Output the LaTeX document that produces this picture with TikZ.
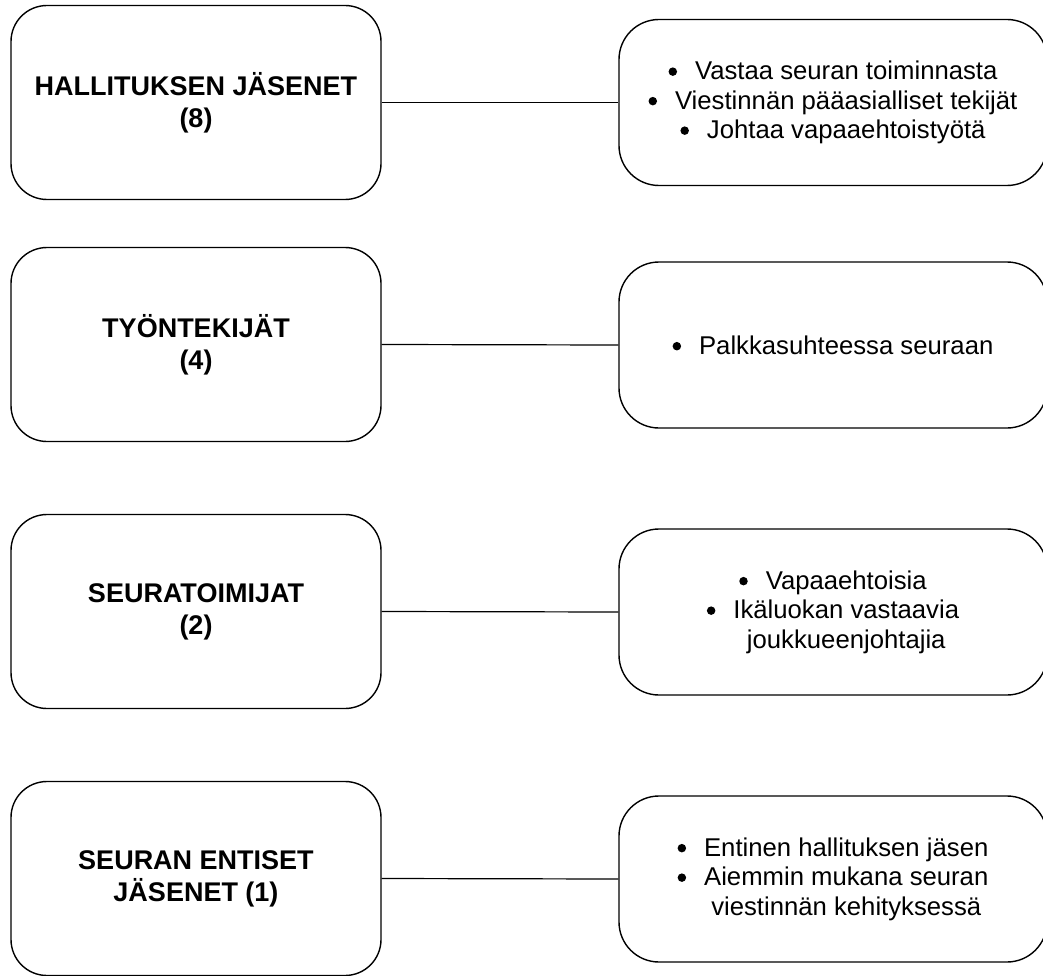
\documentclass[tikz,border=0pt]{standalone}
\usepackage{fontspec}
\setmainfont{Liberation Sans}
\newcommand{\mybul}{\tikz[x=1pt,y=1pt,baseline=0pt]\fill (4.25,8) circle[radius=4.25];\hspace{18pt}}
\newcommand{\mybulgap}{\hspace*{26.5pt}}
\begin{document}
\begin{tikzpicture}[x=1pt,y=-1pt,
  lbox/.style={draw=black, line width=1.4pt, rounded corners=36pt, minimum width=370pt, minimum height=194pt,
    align=center, font=\fontsize{27}{32}\selectfont\bfseries, inner sep=0pt},
  rbox/.style={draw=black, line width=1.4pt, rounded corners=40pt, minimum width=428pt, minimum height=166pt,
    align=center, font=\fontsize{25.7}{29.5}\selectfont, inner sep=0pt},
  link/.style={draw=black, line width=1.2pt}]
\useasboundingbox (0,0) rectangle (1043,976);
\node[lbox] (L1) at (196,102.5) {HALLITUKSEN JÄSENET\\(8)};
\node[lbox] (L2) at (196,344.5) {TYÖNTEKIJÄT\\(4)};
\node[lbox] (L3) at (196,611.5) {SEURATOIMIJAT\\(2)};
\node[lbox] (L4) at (196,878.5) {SEURAN ENTISET\\JÄSENET (1)};
\node[rbox] (R1) at (833,102.5) {\mybul Vastaa seuran toiminnasta\\\mybul Viestinnän pääasialliset tekijät\\\mybul Johtaa vapaaehtoistyötä};
\node[rbox] (R2) at (833,345) {\mybul Palkkasuhteessa seuraan};
\node[rbox] (R3) at (833,612) {\mybul Vapaaehtoisia\\\mybul Ikäluokan vastaavia\\\mybulgap joukkueenjohtajia};
\node[rbox] (R4) at (833,879) {\mybul Entinen hallituksen jäsen\\\mybul Aiemmin mukana seuran\\\mybulgap viestinnän kehityksessä};
\draw[link] (L1.east) -- (R1.west);
\draw[link] (L2.east) -- (R2.west);
\draw[link] (L3.east) -- (R3.west);
\draw[link] (L4.east) -- (R4.west);
\end{tikzpicture}
\end{document}
